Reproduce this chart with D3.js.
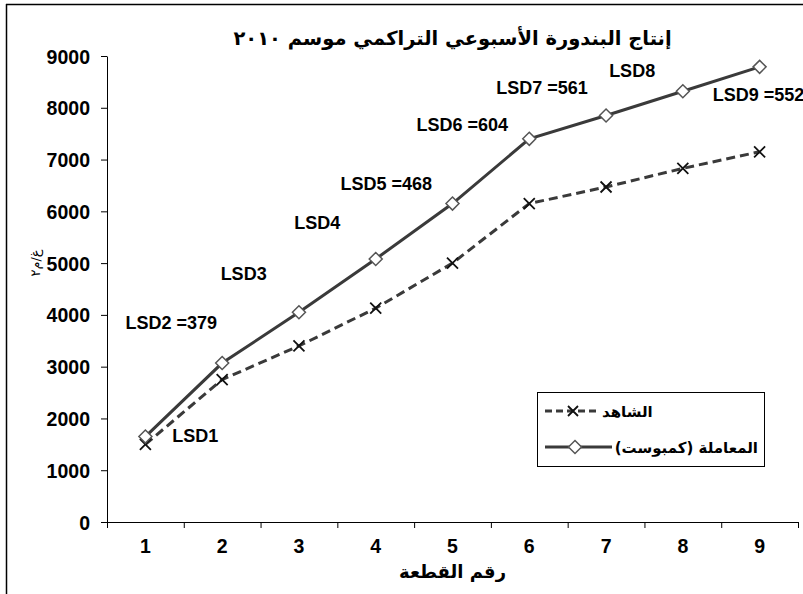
<!DOCTYPE html>
<html><head><meta charset="utf-8">
<script src="https://cdn.jsdelivr.net/npm/d3@7"></script>
<style>
body{margin:0;background:#fff;}
svg{display:block;}
text{font-family:"Liberation Sans",Arial,sans-serif;}
text.ar{font-family:"DejaVu Sans","Noto Sans",sans-serif;}
</style></head>
<body>
<svg id="c" width="803" height="594"></svg>
<script>
const categories = ["1","2","3","4","5","6","7","8","9"];
const controlValues = [1500, 2750, 3400, 4130, 5000, 6150, 6470, 6830, 7150];
const compostValues = [1650, 3070, 4050, 5080, 6150, 7400, 7850, 8320, 8790];
const yTicks = [0,1000,2000,3000,4000,5000,6000,7000,8000,9000];
const seriesNames = ["الشاهد", "المعاملة (كمبوست)"];
const lsdLabels = ["LSD1","LSD2 =379","LSD3","LSD4","LSD5 =468","LSD6 =604","LSD7 =561","LSD8","LSD9 =552"];
const lsdCat = [1.35, 0.74, 1.98, 2.94, 3.54, 4.53, 5.57, 7.04, 8.39];
const lsdVal = [1544, 3728, 4672, 5656, 6409, 7548, 8263, 8591, 8127];
const titleText = "إنتاج البندورة الأسبوعي التراكمي موسم ٢٠١٠";
const xTitle = "رقم القطعة";
const yTitle = "غ/م٢";

const svg = d3.select("#c");
const L=107, R=798, T=56, B=522;
const x = d3.scaleBand().domain(categories).range([L,R]).padding(0);
const xc = d3.scaleLinear().domain([1,9]).range([x("1")+x.bandwidth()/2, x("9")+x.bandwidth()/2]);
const xb = d3.scaleLinear().domain([0,9]).range([L,R]);
const y = d3.scaleLinear().domain([0,9000]).range([B,T]);
const col = "#3a3a3a";

// frame
svg.append("line").attr("x1",6.5).attr("x2",6.5).attr("y1",4).attr("y2",594).attr("stroke","#000").attr("stroke-width",1.5);
svg.append("line").attr("x1",6).attr("x2",803).attr("y1",4.5).attr("y2",4.5).attr("stroke","#000").attr("stroke-width",1.5);

// y axis
const ya = svg.append("g").attr("transform",`translate(${L},0)`)
  .call(d3.axisLeft(y).tickValues(yTicks).tickSize(6).tickSizeOuter(0).tickPadding(11).tickFormat(d3.format("d")));
ya.select(".domain").attr("stroke","#000");
ya.selectAll("text").attr("font-size",19.5).attr("font-weight","bold").attr("fill","#000").attr("dy","0.36em");

// x axis
const xa = svg.append("g").attr("transform",`translate(0,${B})`)
  .call(d3.axisBottom(xb).ticks(9).tickSize(6).tickSizeOuter(0).tickFormat(""));
xa.select(".domain").attr("stroke","#000");
const xl = svg.append("g").attr("transform",`translate(0,${B})`)
  .call(d3.axisBottom(x).tickSize(0).tickPadding(17));
xl.select(".domain").remove();
xl.selectAll("text").attr("font-size",19.5).attr("font-weight","bold").attr("fill","#000");

// lines
const lineGen = d3.line().x((d,i)=>xc(i+1)).y(d=>y(d));
svg.append("path").datum(controlValues).attr("d",lineGen).attr("fill","none")
  .attr("stroke",col).attr("stroke-width",3).attr("stroke-dasharray","9,5");
svg.append("path").datum(compostValues).attr("d",lineGen).attr("fill","none")
  .attr("stroke",col).attr("stroke-width",3);

function xMark(g,cx,cy,s){
  g.append("path").attr("d",`M${cx-s},${cy-s}L${cx+s},${cy+s}M${cx-s},${cy+s}L${cx+s},${cy-s}`)
   .attr("stroke","#111").attr("stroke-width",1.8).attr("fill","none");
}
function diamond(g,cx,cy,s){
  g.append("path").attr("d",`M${cx},${cy-s}L${cx+s},${cy}L${cx},${cy+s}L${cx-s},${cy}Z`)
   .attr("fill","#fff").attr("stroke","#555").attr("stroke-width",1.5);
}
const mk = svg.append("g");
controlValues.forEach((v,i)=>xMark(mk,xc(i+1),y(v),5.5));
compostValues.forEach((v,i)=>diamond(mk,xc(i+1),y(v),6.5));

// LSD labels
svg.append("g").selectAll("text").data(lsdLabels).join("text")
  .attr("x",(d,i)=>xc(lsdCat[i])).attr("y",(d,i)=>y(lsdVal[i]))
  .attr("font-size",18).attr("font-weight","bold").attr("fill","#000")
  .style("white-space","pre").text(d=>d);

// title
svg.append("text").attr("class","ar").attr("x",(L+R)/2).attr("y",45).attr("text-anchor","middle")
  .attr("font-size",19.5).attr("font-weight","bold").attr("direction","rtl").attr("fill","#000").text(titleText);
// axis titles
svg.append("text").attr("class","ar").attr("x",(L+R)/2).attr("y",578).attr("text-anchor","middle")
  .attr("font-size",18).attr("font-weight","bold").attr("fill","#000").text(xTitle);
svg.append("text").attr("class","ar").attr("transform","translate(40,263) rotate(-90)").attr("text-anchor","middle")
  .attr("font-size",13).attr("fill","#000").text(yTitle);

// legend
const lg = svg.append("g");
lg.append("rect").attr("x",537.5).attr("y",392.5).attr("width",227).attr("height",74)
  .attr("fill","#fff").attr("stroke","#000").attr("stroke-width",1);
lg.append("line").attr("x1",545).attr("x2",600).attr("y1",411).attr("y2",411)
  .attr("stroke",col).attr("stroke-width",3).attr("stroke-dasharray","7,4");
xMark(lg,573,411,5);
lg.append("text").attr("class","ar").attr("x",602).attr("y",417).attr("font-size",15).attr("font-weight","bold").attr("fill","#000").text(seriesNames[0]);
lg.append("line").attr("x1",545).attr("x2",612).attr("y1",447).attr("y2",447)
  .attr("stroke",col).attr("stroke-width",3);
diamond(lg,575,447,6.5);
lg.append("text").attr("class","ar").attr("x",758).attr("y",453).attr("text-anchor","start").attr("direction","rtl").attr("font-size",15).attr("font-weight","bold").attr("fill","#000").text(seriesNames[1]);
</script>
</body></html>
